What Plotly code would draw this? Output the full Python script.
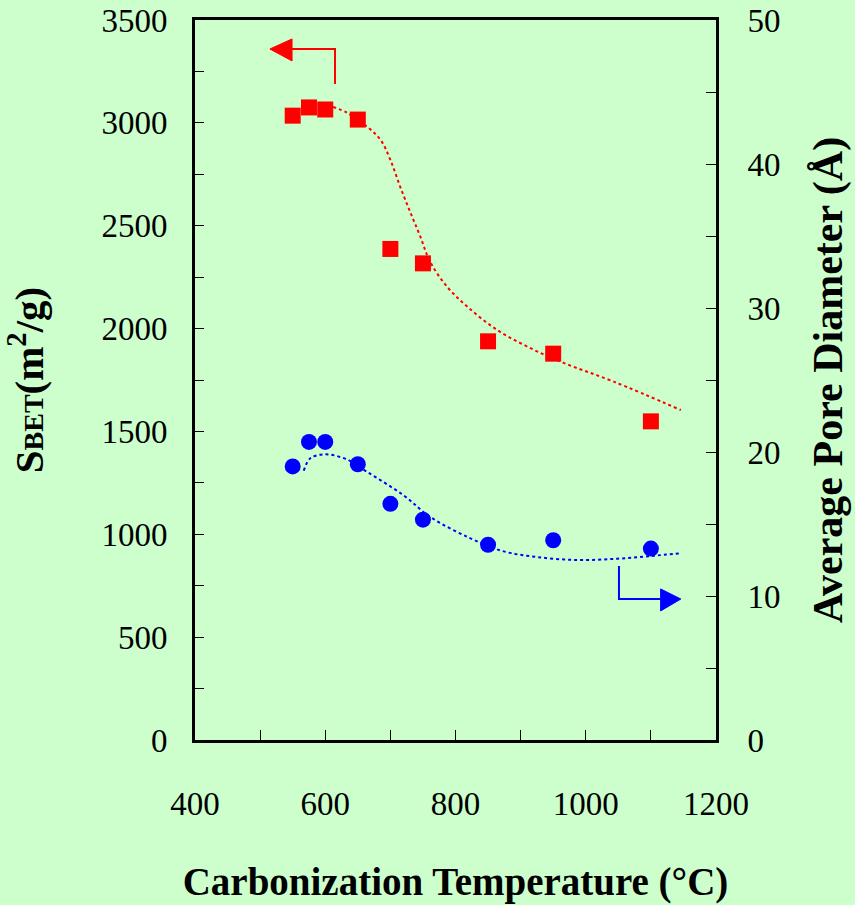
import plotly.graph_objects as go

# Carbonization temperature (°C)
temp = [550, 575, 600, 650, 700, 750, 850, 950, 1100]
# Specific surface area S_BET (m2/g)
sbet = [3035, 3075, 3065, 3016, 2387, 2317, 1938, 1878, 1549]
# Average pore diameter (Å)
pore = [19.0, 20.7, 20.7, 19.15, 16.4, 15.3, 13.56, 13.87, 13.29]

# Trend line (red, S_BET)
sbet_fit_x = [612, 633, 664, 685, 700, 715, 731, 746, 761, 787, 818, 864, 915, 966, 1043, 1146]
sbet_fit_y = [3077, 3050, 2982, 2917, 2820, 2690, 2562, 2447, 2325, 2204, 2107, 1993, 1905, 1833, 1742, 1604]

# Trend line (blue, pore diameter)
pore_fit_x = [567, 577, 600, 633, 664, 720, 761, 823, 874, 926, 987, 1049, 1100, 1146]
pore_fit_y = [18.7, 19.56, 19.84, 19.49, 18.63, 17.0, 15.5, 14.0, 13.1, 12.7, 12.5, 12.59, 12.78, 12.96]

x_ticks = [400, 600, 800, 1000, 1200]
y1_ticks = [0, 500, 1000, 1500, 2000, 2500, 3000, 3500]
y2_ticks = [0, 10, 20, 30, 40, 50]

BG = "#CCFFCC"
FONT = "Liberation Serif, Times New Roman, serif"

fig = go.Figure()

fig.add_trace(go.Scatter(x=sbet_fit_x, y=sbet_fit_y, mode="lines",
                         line=dict(color="#FF0000", width=2, dash="dot", shape="spline"),
                         yaxis="y", showlegend=False, hoverinfo="skip"))
fig.add_trace(go.Scatter(x=pore_fit_x, y=pore_fit_y, mode="lines",
                         line=dict(color="#0000FF", width=2, dash="dot", shape="spline"),
                         yaxis="y2", showlegend=False, hoverinfo="skip"))
fig.add_trace(go.Scatter(x=temp, y=sbet, mode="markers",
                         marker=dict(symbol="square", size=16, color="#FF0000"),
                         yaxis="y", showlegend=False))
fig.add_trace(go.Scatter(x=temp, y=pore, mode="markers",
                         marker=dict(symbol="circle", size=16, color="#0000FF"),
                         yaxis="y2", showlegend=False))

# Arrows indicating which axis each series belongs to
fig.add_shape(type="path", xref="x", yref="y",
              path="M 615 3189 L 615 3359 L 549 3359",
              line=dict(color="#FF0000", width=2))
fig.add_shape(type="path", xref="x", yref="y",
              path="M 549 3408 L 549 3301 L 515 3359 Z",
              line=dict(color="#FF0000", width=1), fillcolor="#FF0000")
fig.add_shape(type="path", xref="x", yref="y2",
              path="M 1051 12.08 L 1051 9.79 L 1115 9.79",
              line=dict(color="#0000FF", width=2))
fig.add_shape(type="path", xref="x", yref="y2",
              path="M 1115 10.49 L 1115 8.96 L 1146 9.79 Z",
              line=dict(color="#0000FF", width=1), fillcolor="#0000FF")

fig.update_layout(
    width=855, height=905,
    margin=dict(l=195, r=139, t=20, b=165, autoexpand=False),
    paper_bgcolor=BG, plot_bgcolor=BG,
    font=dict(family=FONT, size=33, color="black"),
    xaxis=dict(range=[400, 1200], tickvals=x_ticks, ticks="inside", ticklen=10, tickwidth=1,
               tickcolor="black", automargin=False,
               minor=dict(ticks="inside", ticklen=10, dtick=100, tickwidth=1, tickcolor="black"),
               showline=True, linecolor="black", linewidth=3, mirror=True,
               showgrid=False, zeroline=False, ticklabelstandoff=32,
               title=dict(text="<b>Carbonization Temperature (°C)</b>",
                          font=dict(size=39, family=FONT), standoff=48)),
    yaxis=dict(range=[0, 3500], tickvals=y1_ticks, ticks="inside", ticklen=9, tickwidth=1,
               tickcolor="black", automargin=False,
               minor=dict(ticks="inside", ticklen=9, dtick=250, tickwidth=1, tickcolor="black"),
               showline=True, linecolor="black", linewidth=3,
               showgrid=False, zeroline=False, ticklabelstandoff=18,
               title=dict(text="<b>S<span style='font-size:28px'>BET</span>(m<sup>2</sup>/g)</b>",
                          font=dict(size=41, family=FONT), standoff=46)),
    yaxis2=dict(range=[0, 50], tickvals=y2_ticks, ticks="inside", ticklen=10, tickwidth=1,
                tickcolor="black", overlaying="y", side="right", automargin=False,
                minor=dict(ticks="inside", ticklen=10, dtick=5, tickwidth=1, tickcolor="black"),
                showline=True, linecolor="black", linewidth=3,
                showgrid=False, zeroline=False, ticklabelstandoff=22,
                title=dict(text="<b>Average Pore Diameter (Å)</b>",
                           font=dict(size=42, family=FONT), standoff=34)),
)

fig.write_html("out.html", config={"displayModeBar": False},
               post_script="document.body.style.margin='0';document.body.style.background='#CCFFCC';")
